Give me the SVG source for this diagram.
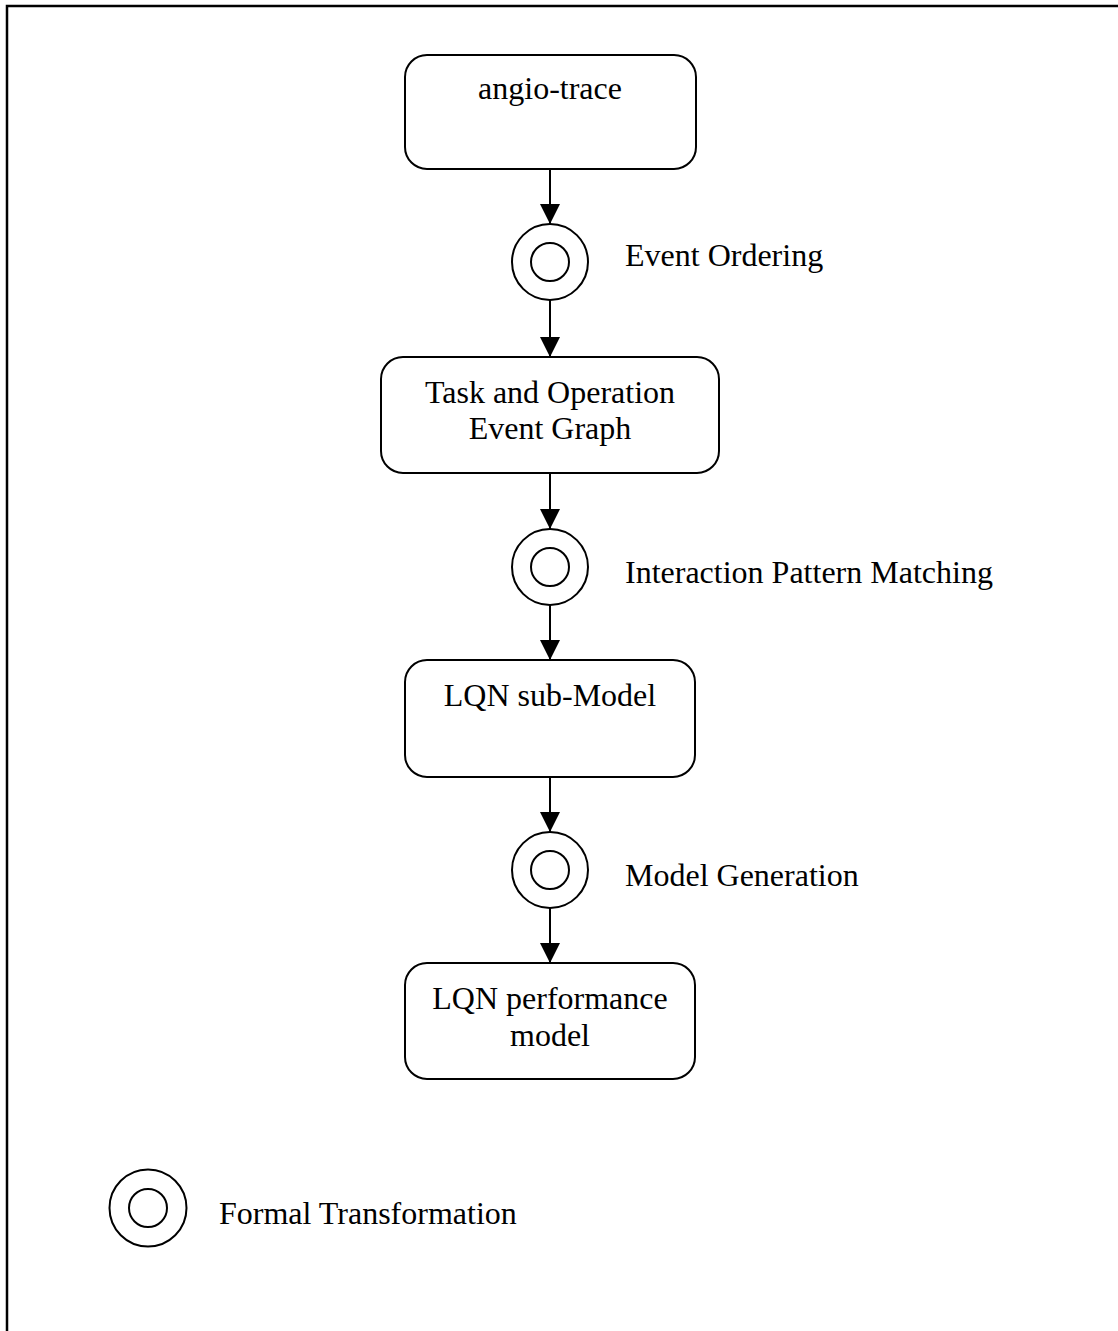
<svg xmlns="http://www.w3.org/2000/svg" width="1118" height="1331" viewBox="0 0 1118 1331">
  <style>
    .box { fill: #fff; stroke: #000; stroke-width: 2; }
    .ring { fill: #fff; stroke: #000; stroke-width: 2; }
    .edge { stroke: #000; stroke-width: 2; fill: none; }
    text { font-family: "Liberation Serif", "Times New Roman", serif; font-size: 32px; fill: #000; }
    .c { text-anchor: middle; }
  </style>
  <defs>
    <marker id="head" markerWidth="20" markerHeight="20" refX="20" refY="10" orient="auto" markerUnits="userSpaceOnUse" viewBox="0 0 20 20">
      <path d="M0,0 L20,10 L0,20 z" fill="#000"/>
    </marker>
  </defs>

  <rect width="1118" height="1331" fill="#fff"/>
  <!-- frame (top and left edges) -->
  <path d="M7,1331 V6 H1118" fill="none" stroke="#000" stroke-width="2.5"/>

  <g id="connectors">
    <path class="edge" d="M550,169 V224" marker-end="url(#head)"/>
    <path class="edge" d="M550,300 V357" marker-end="url(#head)"/>
    <path class="edge" d="M550,473 V529" marker-end="url(#head)"/>
    <path class="edge" d="M550,605 V660" marker-end="url(#head)"/>
    <path class="edge" d="M550,777 V832" marker-end="url(#head)"/>
    <path class="edge" d="M550,908 V963" marker-end="url(#head)"/>
  </g>

  <g id="angio-trace">
    <rect class="box" x="405" y="55" width="291" height="114" rx="22"/>
    <text class="c" x="550" y="99">angio-trace</text>
  </g>

  <g id="event-ordering">
    <circle class="ring" cx="550" cy="262" r="38"/>
    <circle class="ring" cx="550" cy="262" r="19"/>
    <text x="625" y="266">Event Ordering</text>
  </g>

  <g id="event-graph">
    <rect class="box" x="381" y="357" width="338" height="116" rx="22"/>
    <text class="c" x="550" y="403">Task and Operation</text>
    <text class="c" x="550" y="439">Event Graph</text>
  </g>

  <g id="pattern-matching">
    <circle class="ring" cx="550" cy="567" r="38"/>
    <circle class="ring" cx="550" cy="567" r="19"/>
    <text x="625" y="583">Interaction Pattern Matching</text>
  </g>

  <g id="sub-model">
    <rect class="box" x="405" y="660" width="290" height="117" rx="22"/>
    <text class="c" x="550" y="706">LQN sub-Model</text>
  </g>

  <g id="model-generation">
    <circle class="ring" cx="550" cy="870" r="38"/>
    <circle class="ring" cx="550" cy="870" r="19"/>
    <text x="625" y="886">Model Generation</text>
  </g>

  <g id="performance-model">
    <rect class="box" x="405" y="963" width="290" height="116" rx="22"/>
    <text class="c" x="550" y="1009">LQN performance</text>
    <text class="c" x="550" y="1046">model</text>
  </g>

  <g id="legend">
    <circle class="ring" cx="148" cy="1208" r="38.5"/>
    <circle class="ring" cx="148" cy="1208" r="19"/>
    <text x="219" y="1224">Formal Transformation</text>
  </g>
</svg>
